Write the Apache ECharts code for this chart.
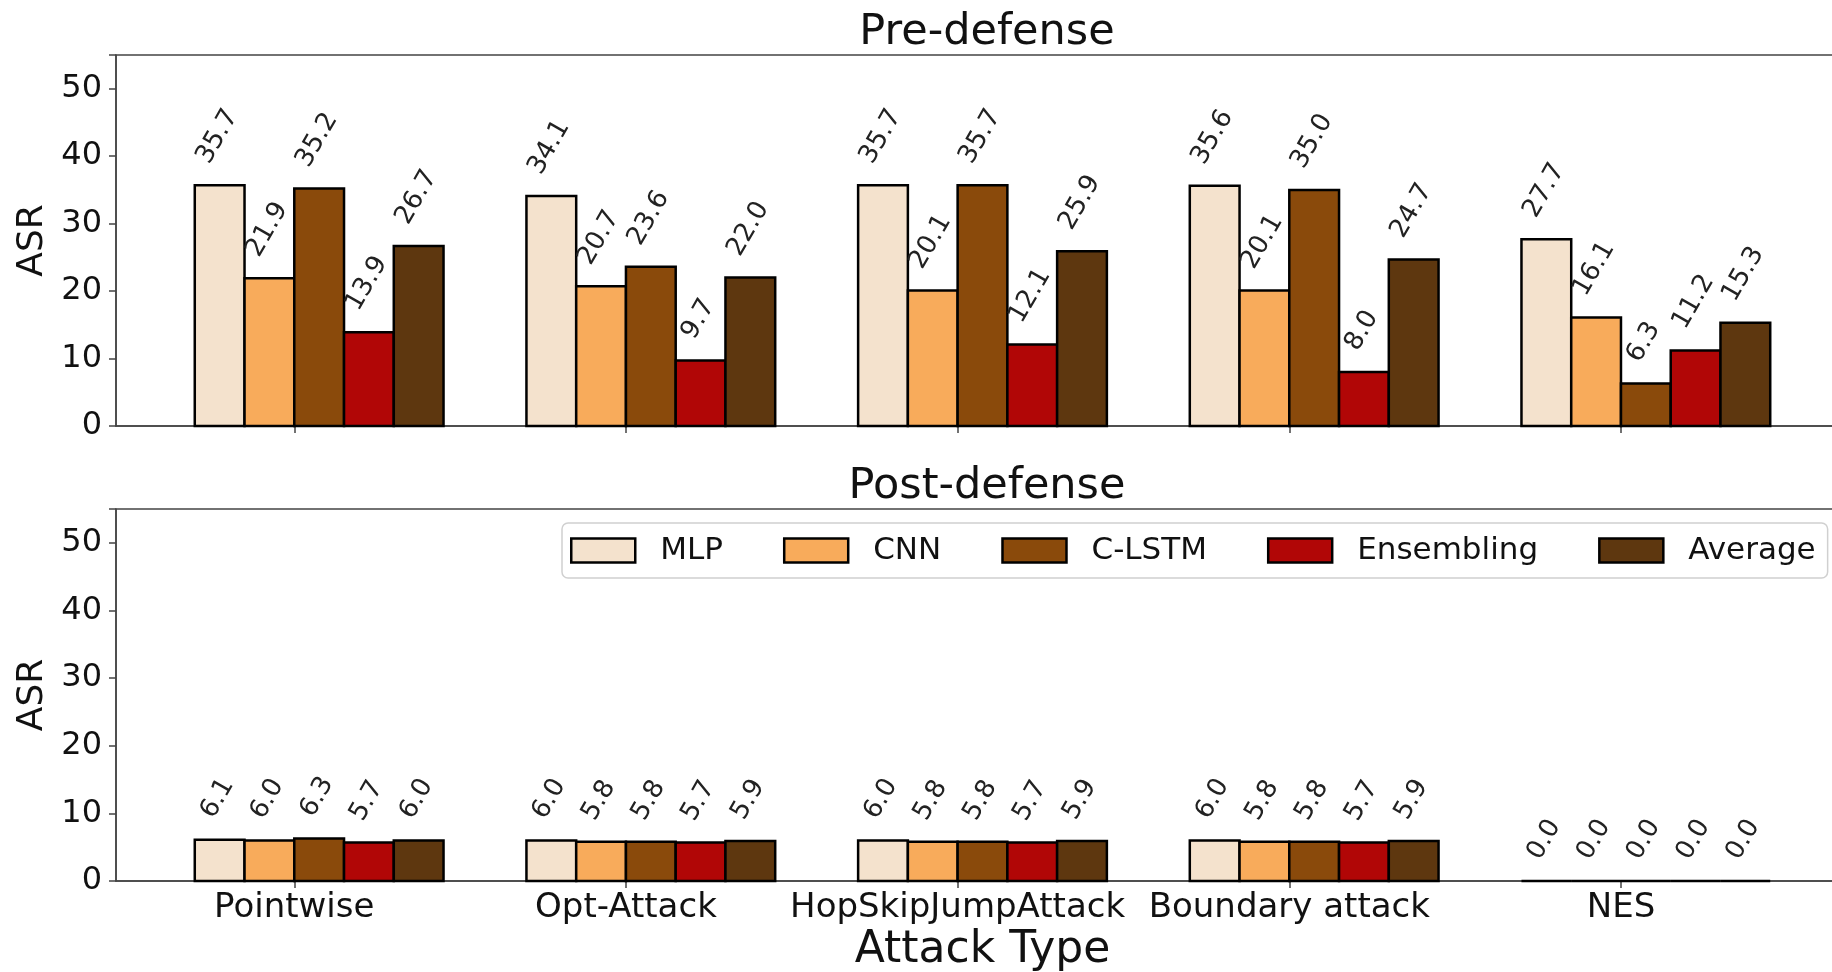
<!DOCTYPE html>
<html>
<head>
<meta charset="utf-8">
<script src="https://cdn.jsdelivr.net/npm/echarts@6/dist/echarts.min.js"></script>
<style>
html,body{margin:0;padding:0;background:#fff;}
#chart{width:1832px;height:972px;}
</style>
</head>
<body>
<div id="chart"></div>
<script>
// ---- data ----
const categories = ['Pointwise', 'Opt-Attack', 'HopSkipJumpAttack', 'Boundary attack', 'NES'];
const seriesNames = ['MLP', 'CNN', 'C-LSTM', 'Ensembling', 'Average'];
const preMLP = [35.7, 34.1, 35.7, 35.6, 27.7];
const preCNN = [21.9, 20.7, 20.1, 20.1, 16.1];
const preCLSTM = [35.2, 23.6, 35.7, 35.0, 6.3];
const preEnsembling = [13.9, 9.7, 12.1, 8.0, 11.2];
const preAverage = [26.7, 22.0, 25.9, 24.7, 15.3];
const postMLP = [6.1, 6.0, 6.0, 6.0, 0.0];
const postCNN = [6.0, 5.8, 5.8, 5.8, 0.0];
const postCLSTM = [6.3, 5.8, 5.8, 5.8, 0.0];
const postEnsembling = [5.7, 5.7, 5.7, 5.7, 0.0];
const postAverage = [6.0, 5.9, 5.9, 5.9, 0.0];
const yTicks = [0, 10, 20, 30, 40, 50];

// ---- style ----
const colors = ['#f4e2cd', '#f8ab5b', '#8a4a0b', '#b10606', '#5e370f'];
const FONT = '"DejaVu Sans", sans-serif';
const BAR_W = 0.15;
const LABEL_FS = 26;
const ROT = Math.PI / 3;

const measureCtx = document.createElement('canvas').getContext('2d');
measureCtx.font = LABEL_FS + 'px ' + FONT;

function makeRender(k) {
  return function (params, api) {
    const i = api.value(0), v = api.value(1);
    const xl = i + (k - 2) * BAR_W;
    const p0 = api.coord([xl, 0]);
    const p1 = api.coord([xl + BAR_W, v]);
    const txt = v.toFixed(1);
    const tw = measureCtx.measureText(txt).width;
    const th = LABEL_FS * 1.0;
    const bh = tw * Math.sin(ROT) + th * Math.cos(ROT);
    const cx = (p0[0] + p1[0]) / 2 - 2;
    const cy = p1[1] - 17 - bh / 2;
    return {
      type: 'group',
      children: [
        { type: 'rect', shape: { x: p0[0], y: p1[1], width: p1[0] - p0[0], height: p0[1] - p1[1] },
          style: { fill: colors[k], stroke: '#000', lineWidth: 2.5 } },
        { type: 'text', x: cx, y: cy, rotation: ROT,
          style: { text: txt, font: LABEL_FS + 'px ' + FONT, fill: '#222', align: 'center', verticalAlign: 'middle' } }
      ]
    };
  };
}

const preData = [preMLP, preCNN, preCLSTM, preEnsembling, preAverage];
const postData = [postMLP, postCNN, postCLSTM, postEnsembling, postAverage];

const series = [];
[preData, postData].forEach((set, g) => {
  set.forEach((arr, k) => {
    series.push({
      type: 'custom', name: seriesNames[k], xAxisIndex: g, yAxisIndex: g,
      itemStyle: { color: colors[k], borderColor: '#000', borderWidth: 2 },
      renderItem: makeRender(k),
      encode: { x: 0, y: 1 },
      data: arr.map((v, i) => [i, v]),
      clip: false
    });
  });
});

const tickIdx = categories.map((c, i) => i);
function xAxisCfg(g) {
  return {
    type: 'value', gridIndex: g, min: -0.5375, max: 4.6875,
    axisLine: { show: true, onZero: false, lineStyle: { color: '#444', width: 1.5 } },
    axisTick: { show: true, customValues: tickIdx, length: 7, lineStyle: { color: '#444', width: 1.5 } },
    axisLabel: { show: g === 1, customValues: tickIdx, formatter: (v) => categories[Math.round(v)],
      fontFamily: FONT, fontSize: 34, color: '#111', margin: 10 },
    splitLine: { show: false },
    name: g === 1 ? 'Attack Type' : '', nameLocation: 'middle', nameGap: 48,
    nameTextStyle: { fontFamily: FONT, fontSize: 44, color: '#111' }
  };
}
function yAxisCfg(g) {
  return {
    type: 'value', gridIndex: g, min: 0, max: 55, interval: 10,
    axisLine: { show: true, onZero: false, lineStyle: { color: '#444', width: 1.5 } },
    axisTick: { show: true, length: 7, lineStyle: { color: '#444', width: 1.5 } },
    axisLabel: { fontFamily: FONT, fontSize: 32, color: '#111', margin: 14,
      formatter: (v) => yTicks.includes(v) ? String(v) : '' },
    splitLine: { show: false },
    name: 'ASR', nameLocation: 'middle', nameGap: 64,
    nameTextStyle: { fontFamily: FONT, fontSize: 36, color: '#111' }
  };
}

const option = {
  backgroundColor: '#fff',
  animation: false,
  title: [
    { text: 'Pre-defense', left: 982, top: 6, textAlign: 'center',
      textStyle: { fontFamily: FONT, fontSize: 43, fontWeight: 'normal', color: '#111' } },
    { text: 'Post-defense', left: 982, top: 460, textAlign: 'center',
      textStyle: { fontFamily: FONT, fontSize: 43, fontWeight: 'normal', color: '#111' } }
  ],
  legend: {
    data: seriesNames, left: 562, top: 523, orient: 'horizontal',
    icon: 'rect', itemWidth: 64, itemHeight: 24, itemGap: 60,
    padding: [12, 12, 12, 8],
    borderColor: '#d0d0d0', borderWidth: 1.5, borderRadius: 6,
    itemStyle: { borderColor: '#000', borderWidth: 2.5 },
    textStyle: { fontFamily: FONT, fontSize: 31, color: '#111', padding: [0, 0, 0, 20] }
  },
  grid: [
    { left: 116, top: 55, width: 1733, height: 371, show: true, borderColor: '#444', borderWidth: 1.5,
      backgroundColor: 'transparent', outerBoundsMode: 'none' },
    { left: 116, top: 509, width: 1733, height: 372, show: true, borderColor: '#444', borderWidth: 1.5,
      backgroundColor: 'transparent', outerBoundsMode: 'none' }
  ],
  xAxis: [xAxisCfg(0), xAxisCfg(1)],
  yAxis: [yAxisCfg(0), yAxisCfg(1)],
  series: series
};

const chart = echarts.init(document.getElementById('chart'), null, { renderer: 'canvas' });
chart.setOption(option);
</script>
</body>
</html>
